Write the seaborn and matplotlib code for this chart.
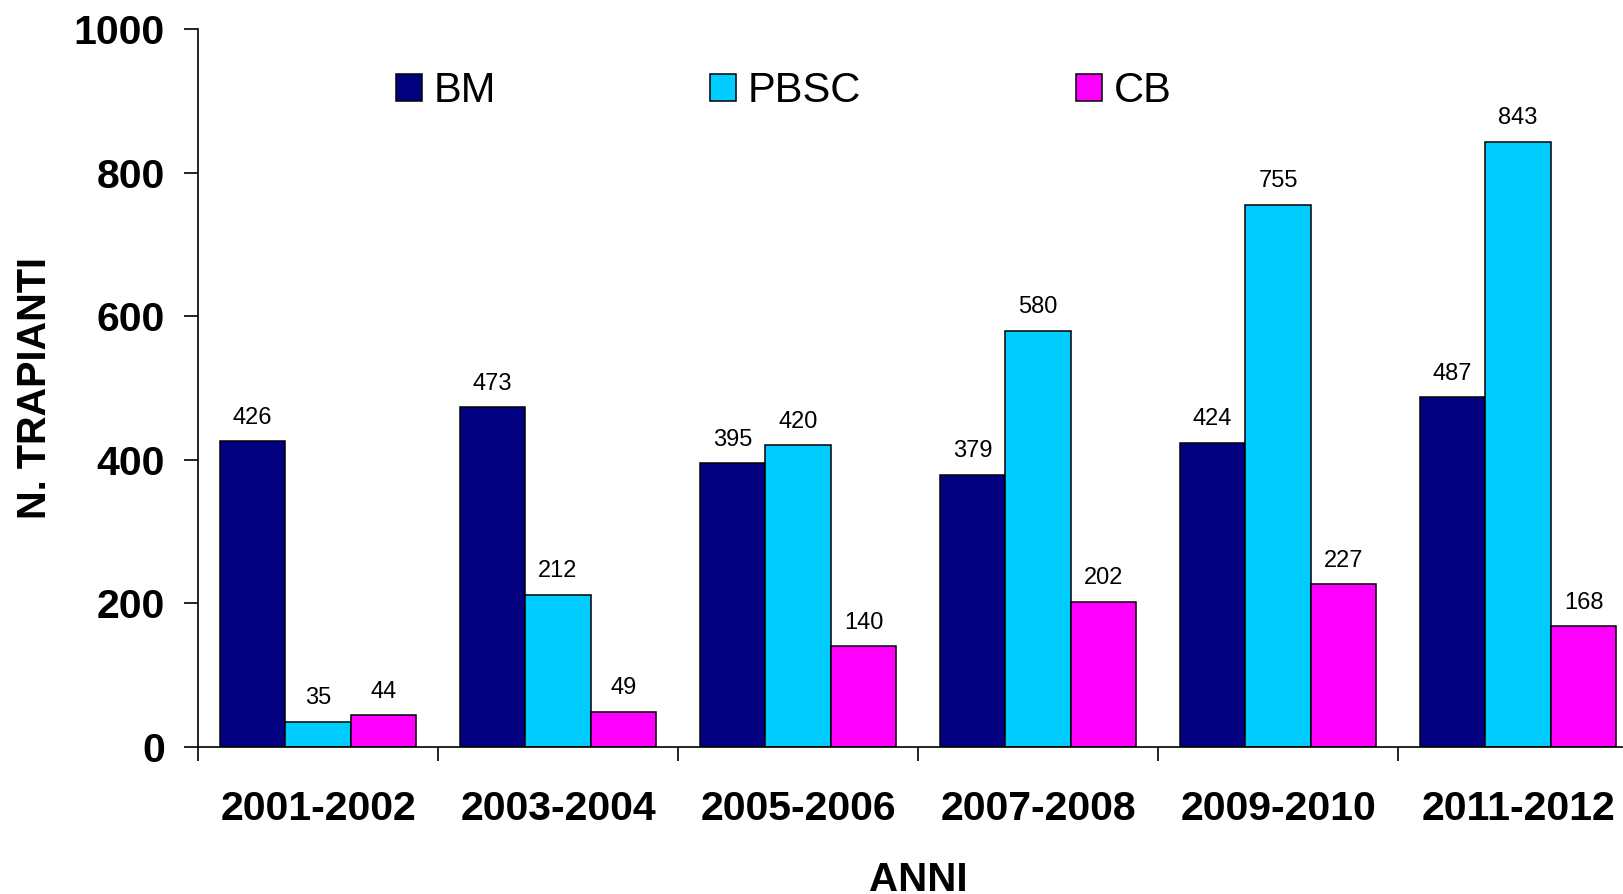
import matplotlib
matplotlib.use("Agg")
import matplotlib.pyplot as plt
import pandas as pd
import seaborn as sns

# Data
anni = ["2001-2002", "2003-2004", "2005-2006", "2007-2008", "2009-2010", "2011-2012"]
bm = [426, 473, 395, 379, 424, 487]
pbsc = [35, 212, 420, 580, 755, 843]
cb = [44, 49, 140, 202, 227, 168]

series = ["BM", "PBSC", "CB"]
colori = ["#000080", "#00CCFF", "#FF00FF"]

df = pd.DataFrame({"ANNI": anni, "BM": bm, "PBSC": pbsc, "CB": cb})
df = df.melt(id_vars="ANNI", var_name="tipo", value_name="n")

sns.set_style("white")
plt.rcParams["font.family"] = ["Liberation Sans", "DejaVu Sans"]
plt.rcParams["text.color"] = "black"
plt.rcParams["axes.labelcolor"] = "black"
plt.rcParams["xtick.color"] = "black"
plt.rcParams["ytick.color"] = "black"

fig = plt.figure(figsize=(16.23, 8.94), dpi=100)
ax = fig.add_axes([198 / 1623, 1 - 747 / 894, (1638 - 198) / 1623, (747 - 29) / 894])

sns.barplot(
    data=df, x="ANNI", y="n", hue="tipo", hue_order=series,
    palette=colori, width=0.82, gap=0, edgecolor="black", linewidth=1.1,
    saturation=1, errorbar=None, ax=ax, legend=True,
)

for cont in ax.containers:
    ax.bar_label(cont, padding=9, fontsize=17, color="black")

ax.set_ylim(0, 1000)
ax.set_xlim(-0.5, len(anni) - 0.5)
ax.set_yticks([0, 200, 400, 600, 800, 1000])
ax.tick_params(axis="y", labelsize=29.5, length=10, width=1.2, pad=14, direction="out", left=True)
for t in ax.get_yticklabels():
    t.set_fontweight("bold")

# category boundary ticks (major) and labels at centres (minor)
ax.set_xticks([i - 0.5 for i in range(len(anni) + 1)])
ax.set_xticklabels([])
ax.set_xticks(range(len(anni)), minor=True)
ax.set_xticklabels(anni, minor=True, fontsize=29.5, fontweight="bold")
ax.tick_params(axis="x", which="major", length=10, width=1.2, direction="out", bottom=True)
ax.tick_params(axis="x", which="minor", length=0, pad=31)

# the reference cuts the axis title at the bottom edge
ax.set_xlabel("ANNI", fontsize=29, fontweight="bold", labelpad=24)
ax.set_ylabel("N. TRAPIANTI", fontsize=28.5, fontweight="bold", labelpad=14)

sns.despine(ax=ax)
for side in ["left", "bottom"]:
    ax.spines[side].set_linewidth(1.2)
    ax.spines[side].set_color("black")

handles, labels = ax.get_legend_handles_labels()
ax.get_legend().remove()
fig.legend(
    handles, labels, ncol=3, frameon=False, fontsize=30,
    loc="center left", bbox_to_anchor=(396 / 1623, 1 - 91 / 894),
    borderpad=0, borderaxespad=0, handlelength=0.62, handleheight=0.62,
    handletextpad=0.28, columnspacing=5.15,
)

fig.savefig("out.png", dpi=100)
